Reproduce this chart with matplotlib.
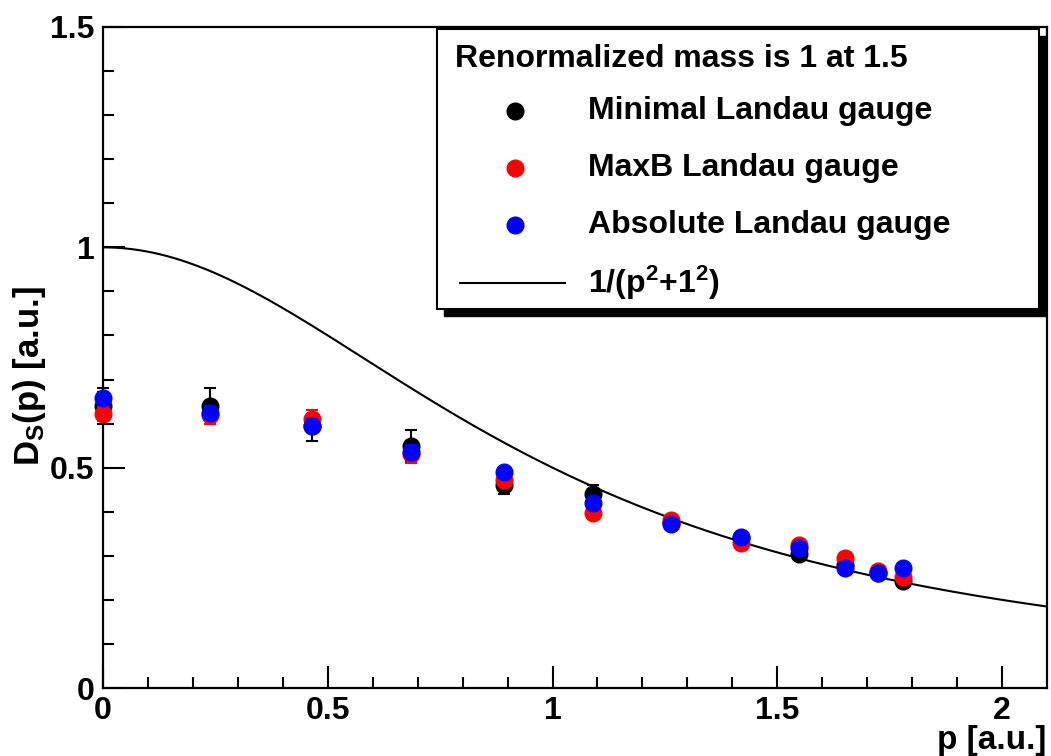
import numpy as np
import matplotlib
matplotlib.use("Agg")
import matplotlib.pyplot as plt
from matplotlib.patches import Rectangle
from matplotlib.lines import Line2D

plt.rcParams['font.family'] = ['Liberation Sans', 'DejaVu Sans']
plt.rcParams['font.weight'] = 'bold'
plt.rcParams['mathtext.fontset'] = 'custom'
plt.rcParams['mathtext.rm'] = 'Liberation Sans:bold'
plt.rcParams['mathtext.bf'] = 'Liberation Sans:bold'
plt.rcParams['mathtext.it'] = 'Liberation Sans:bold'

# ---- data ----
p_vals = [0.0, 0.239, 0.466, 0.685, 0.893, 1.091, 1.263, 1.420, 1.549, 1.650, 1.725, 1.780]
minimal = [0.640, 0.640, 0.595, 0.550, 0.460, 0.440, 0.375, 0.340, 0.305, 0.280, 0.262, 0.242]
minimal_err = [0.040, 0.040, 0.035, 0.035, 0.020, 0.020, 0.010, 0.010, 0.010, 0.010, 0.010, 0.010]
maxb = [0.622, 0.620, 0.610, 0.530, 0.473, 0.398, 0.382, 0.329, 0.325, 0.295, 0.265, 0.252]
maxb_err = [0.015, 0.020, 0.020, 0.020, 0.012, 0.012, 0.008, 0.008, 0.008, 0.008, 0.008, 0.008]
absolute = [0.659, 0.625, 0.595, 0.536, 0.491, 0.420, 0.372, 0.343, 0.318, 0.272, 0.262, 0.272]
absolute_err = [0.012, 0.015, 0.015, 0.015, 0.010, 0.010, 0.008, 0.008, 0.008, 0.008, 0.008, 0.008]
mass = 1.0

W, H = 1051, 756
fig = plt.figure(figsize=(W / 100, H / 100), dpi=100)
fig.patch.set_facecolor('white')

def fx(px):
    return px / W

def fy(py):
    return 1 - py / H

ax = fig.add_axes([fx(103), fy(688), fx(1047) - fx(103), fy(27) - fy(688)])
ax.set_xlim(0, 2.1)
ax.set_ylim(0, 1.5)

# curve 1/(p^2+m^2)
pc = np.linspace(0, 2.1, 400)
ax.plot(pc, 1.0 / (pc ** 2 + mass ** 2), color='black', lw=1.5, zorder=2)

ms = 12
cap = 4.3
for vals, errs, col, z in [(minimal, minimal_err, 'black', 3),
                           (maxb, maxb_err, '#ff0000', 4),
                           (absolute, absolute_err, '#0000ff', 5)]:
    ax.errorbar(p_vals, vals, yerr=errs, fmt='o', color=col, ms=ms,
                capsize=cap, elinewidth=1.5, capthick=1.5, zorder=z, clip_on=False)

# ticks ROOT-style
ax.set_xticks([0, 0.5, 1, 1.5, 2])
ax.set_xticklabels(['0', '0.5', '1', '1.5', '2'])
ax.set_xticks(np.arange(0, 2.1, 0.1), minor=True)
ax.set_yticks([0, 0.5, 1, 1.5])
ax.set_yticklabels(['0', '0.5', '1', '1.5'])
ax.set_yticks(np.arange(0, 1.51, 0.1), minor=True)
ax.tick_params(which='both', direction='in', top=False, right=False, width=1.5)
ax.tick_params(which='major', length=16, labelsize=23, pad=6)
ax.tick_params(which='minor', length=8)
for lab in ax.get_xticklabels() + ax.get_yticklabels():
    lab.set_fontweight('bold')
for s in ax.spines.values():
    s.set_linewidth(1.6)

fig.text(fx(1046), fy(740), 'p [a.u.]', ha='right', va='center', fontsize=24, fontweight='bold')
fig.text(fx(30), fy(376), r'D$_{\rm S}$(p) [a.u.]', ha='center', va='center', rotation=90,
         fontsize=25, fontweight='bold')

# legend box with shadow
bx0, by0, bx1, by1 = 437, 29, 1039, 309
sh = 7
fig.patches.append(Rectangle((fx(bx0 + sh), fy(by1 + sh)), fx(bx1) - fx(bx0), fy(by0) - fy(by1),
                             transform=fig.transFigure, facecolor='black', edgecolor='black', zorder=10))
fig.patches.append(Rectangle((fx(bx0), fy(by1)), fx(bx1) - fx(bx0), fy(by0) - fy(by1),
                             transform=fig.transFigure, facecolor='white', edgecolor='black',
                             lw=1.5, zorder=11))
fig.text(fx(455), fy(59), 'Renormalized mass is 1 at 1.5', ha='left', va='center',
         fontsize=23, fontweight='bold', zorder=12)
entries = [('Minimal Landau gauge', 'black', 111),
           ('MaxB Landau gauge', '#ff0000', 168),
           ('Absolute Landau gauge', '#0000ff', 225)]
for label, col, py in entries:
    fig.lines.append(Line2D([fx(515)], [fy(py)], transform=fig.transFigure, marker='o',
                            color=col, ms=ms, ls='none', zorder=12))
    fig.text(fx(588), fy(py), label, ha='left', va='center', fontsize=23,
             fontweight='bold', zorder=12)
fig.lines.append(Line2D([fx(460), fx(565)], [fy(283), fy(283)], transform=fig.transFigure,
                        color='black', lw=1.5, zorder=12))
fig.text(fx(588), fy(283), r'1/(p$^{2}$+1$^{2}$)', ha='left', va='center', fontsize=23,
         fontweight='bold', zorder=12)

fig.savefig('out.png', dpi=100, facecolor='white')
